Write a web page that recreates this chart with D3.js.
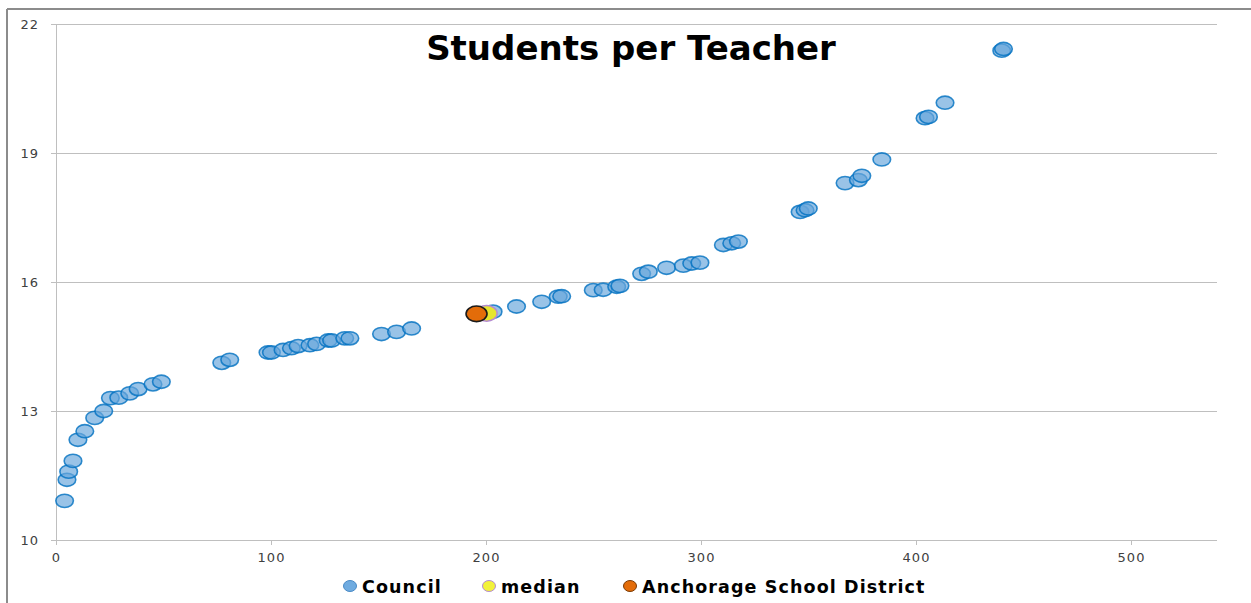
<!DOCTYPE html>
<html>
<head>
    <title>Students per Teacher</title>
    <script type="text/javascript" src="https://d3js.org/d3.v7.min.js"></script>
    <style>
        body { margin: 0; background: #fff; }
        svg text { font-family: "DejaVu Sans", Verdana, sans-serif; }
        .axis text { font-size: 13px; fill: #404040; letter-spacing: 1px; }
        .axis line, .axis path { stroke: #bfbfbf; }
    </style>
</head>
<body>
<script>
    // data
    var councilX = [4.0, 5.1, 5.9, 7.9, 10.2, 13.4, 18.0, 22.2, 25.3, 29.2, 34.3, 38.2, 45.1, 49.0,
                    77.1, 80.8, 98.6, 100.2, 105.6, 109.5, 112.6, 118.1, 121.2, 126.6, 128.2, 134.3, 136.7,
                    151.4, 158.4, 165.4, 203.3, 214.2, 225.9, 233.6, 235.2, 249.9, 254.5, 260.8, 262.3,
                    272.4, 275.5, 284.0, 291.8, 295.7, 299.5, 310.4, 314.3, 317.4, 346.1, 348.4, 349.9,
                    367.0, 373.2, 374.8, 384.1, 404.2, 405.8, 413.5, 439.9, 440.7];
    var councilY = [10.91, 11.40, 11.59, 11.84, 12.33, 12.53, 12.84, 13.00, 13.30, 13.31, 13.41, 13.51, 13.62, 13.68,
                    14.12, 14.19, 14.36, 14.36, 14.42, 14.46, 14.51, 14.53, 14.56, 14.64, 14.64, 14.69, 14.69,
                    14.79, 14.84, 14.92, 15.31, 15.43, 15.54, 15.66, 15.67, 15.81, 15.82, 15.89, 15.91,
                    16.19, 16.24, 16.33, 16.38, 16.43, 16.45, 16.86, 16.90, 16.94, 17.63, 17.67, 17.71,
                    18.30, 18.37, 18.47, 18.85, 19.81, 19.84, 20.17, 21.38, 21.42];
    var medianX = [200.3];
    var medianY = [15.27];
    var anchorageX = [195.6];
    var anchorageY = [15.26];

    var xTicks = [0, 100, 200, 300, 400, 500];
    var yTicks = [10, 13, 16, 19, 22];
    var legendNames = ["Council", "median", "Anchorage School District"];

    var margin = {top: 24, right: 34, bottom: 63, left: 56};
    var W = 1251, H = 603;
    var width = W - margin.left - margin.right;
    var height = H - margin.top - margin.bottom;

    var xScale = d3.scaleLinear().domain([0, 540]).range([0, width]);
    var yScale = d3.scaleLinear().domain([10, 22]).range([height, 0]);

    var root = d3.select("body").append("svg")
        .attr("width", W)
        .attr("height", H);

    // outer chart frame (left and top edges are visible)
    root.append("line").attr("x1", 7).attr("y1", 9).attr("x2", 7).attr("y2", H)
        .attr("stroke", "#8c8c8c").attr("stroke-width", 2);
    root.append("line").attr("x1", 7).attr("y1", 9).attr("x2", W).attr("y2", 9)
        .attr("stroke", "#8c8c8c").attr("stroke-width", 2);

    var svg = root.append("g")
        .attr("transform", "translate(" + margin.left + "," + margin.top + ")");

    // y axis with gridlines
    var yAxis = svg.append("g")
        .attr("class", "axis")
        .call(d3.axisLeft(yScale).tickValues(yTicks).tickSize(-width).tickSizeOuter(0).tickPadding(17));
    yAxis.selectAll(".tick line").attr("x1", -5);
    yAxis.select(".domain").attr("stroke", "#a6a6a6");

    // x axis
    var xAxis = svg.append("g")
        .attr("class", "axis")
        .attr("transform", "translate(0," + height + ")")
        .call(d3.axisBottom(xScale).tickValues(xTicks).tickSize(5).tickSizeOuter(0).tickPadding(5));
    xAxis.select(".domain").remove();
    xAxis.selectAll("text").attr("dy", "0.9em");

    // council points
    svg.selectAll(".council")
        .data(d3.zip(councilX, councilY))
        .enter()
        .append("ellipse")
        .attr("class", "council")
        .attr("cx", function(d) { return xScale(d[0]); })
        .attr("cy", function(d) { return yScale(d[1]); })
        .attr("rx", 8.8)
        .attr("ry", 6.6)
        .attr("fill", "#69a7dc")
        .attr("fill-opacity", 0.68)
        .attr("stroke", "#0070c0")
        .attr("stroke-opacity", 0.8)
        .attr("stroke-width", 1.6);

    // median
    svg.selectAll(".median")
        .data(d3.zip(medianX, medianY))
        .enter()
        .append("ellipse")
        .attr("class", "median")
        .attr("cx", function(d) { return xScale(d[0]); })
        .attr("cy", function(d) { return yScale(d[1]); })
        .attr("rx", 10.5)
        .attr("ry", 7.8)
        .attr("fill", "#e6e62e")
        .attr("stroke", "#b48cd2")
        .attr("stroke-width", 1.5);

    // Anchorage School District
    svg.selectAll(".anchorage")
        .data(d3.zip(anchorageX, anchorageY))
        .enter()
        .append("ellipse")
        .attr("class", "anchorage")
        .attr("cx", function(d) { return xScale(d[0]); })
        .attr("cy", function(d) { return yScale(d[1]); })
        .attr("rx", 10.5)
        .attr("ry", 7.8)
        .attr("fill", "#e36c09")
        .attr("stroke", "#1a1a1a")
        .attr("stroke-width", 1.6);

    // title
    root.append("text")
        .attr("x", 631)
        .attr("y", 60)
        .attr("text-anchor", "middle")
        .style("font-size", "34px")
        .style("font-weight", "bold")
        .attr("fill", "#000")
        .text("Students per Teacher");

    // legend
    var legendFill = ["#6fabe0", "#f2f23a", "#e36c09"];
    var legendStroke = ["#4a8ac6", "#b48cd2", "#7a3a05"];
    var legendPos = [350, 489, 630];
    var legend = root.selectAll(".legend")
        .data(legendNames)
        .enter()
        .append("g")
        .attr("class", "legend")
        .attr("transform", function(d, i) { return "translate(" + legendPos[i] + ",586)"; });
    legend.append("ellipse")
        .attr("rx", 6.5)
        .attr("ry", 5.5)
        .attr("fill", function(d, i) { return legendFill[i]; })
        .attr("stroke", function(d, i) { return legendStroke[i]; })
        .attr("stroke-width", 1);
    legend.append("text")
        .attr("x", 12)
        .attr("y", 6.5)
        .style("font-size", "17.5px")
        .style("font-weight", "bold")
        .style("letter-spacing", "1.1px")
        .attr("fill", "#000")
        .text(function(d) { return d; });
</script>
</body>
</html>
